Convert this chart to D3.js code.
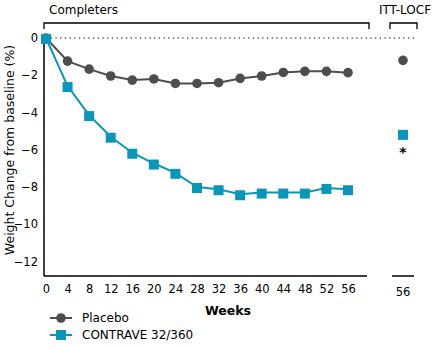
<!DOCTYPE html>
<html>
<head>
<meta charset="utf-8">
<script src="https://cdn.jsdelivr.net/npm/d3@7"></script>
<style>
  body { margin: 0; background: #fff; }
  text { font-family: "DejaVu Sans", Verdana, sans-serif; fill: #000; }
</style>
</head>
<body>
<div id="chart"></div>
<script>
const weeks = [0, 4, 8, 12, 16, 20, 24, 28, 32, 36, 40, 44, 48, 52, 56];
const placebo = [0, -1.24, -1.67, -2.04, -2.26, -2.2, -2.44, -2.44, -2.4, -2.17, -2.04, -1.85, -1.79, -1.79, -1.86];
const contrave = [0, -2.58, -4.14, -5.3, -6.16, -6.74, -7.24, -8.0, -8.12, -8.39, -8.3, -8.3, -8.3, -8.05, -8.12];
const ittPlacebo = -1.2;
const ittContrave = -5.2;
const yTicks = [0, -2, -4, -6, -8, -10, -12];
const seriesNames = ['Placebo', 'CONTRAVE 32/360'];

const w = 436;
const h = 348;
const grey = '#4d4d4d';
const teal = '#0b96b8';

const svg = d3.select('#chart').
append('svg').
attr('width', w).
attr('height', h);

const x = d3.scaleLinear().domain([0, 56]).range([46, 348]);
const xItt = 403;
const y = d3.scaleLinear().domain([0, -12]).range([38, 261.5]);
const yBottom = 276;

// axes
const yAxis = d3.axisLeft(y).tickValues(yTicks).tickSize(0).tickPadding(6);
svg.append('g').
attr('transform', 'translate(44,0)').
call(yAxis).
call(g => g.select('.domain').remove()).
call(g => g.selectAll('text').style('font-size', '11.5px'));

svg.append('line').
attr('x1', 44).attr('x2', 44).
attr('y1', y(0)).attr('y2', yBottom).
attr('stroke', '#000').attr('stroke-width', 1.5);

const xAxis = d3.axisBottom(x).tickValues(weeks).tickSize(0).tickPadding(9);
svg.append('g').
attr('transform', 'translate(0,' + yBottom + ')').
call(xAxis).
call(g => g.select('.domain').remove()).
call(g => g.selectAll('text').style('font-size', '11.5px'));

svg.append('line').
attr('x1', 44).attr('x2', 367).
attr('y1', yBottom).attr('y2', yBottom).
attr('stroke', '#000').attr('stroke-width', 1.5);

// ITT-LOCF axis piece
svg.append('line').
attr('x1', 392).attr('x2', 414).
attr('y1', yBottom).attr('y2', yBottom).
attr('stroke', '#000').attr('stroke-width', 1.5);
svg.append('text').
attr('x', xItt).attr('y', yBottom + 20).
attr('text-anchor', 'middle').
style('font-size', '11.5px').
text('56');

// dotted zero line
svg.append('line').
attr('x1', 46).attr('x2', 417).
attr('y1', y(0)).attr('y2', y(0)).
attr('stroke', '#555').attr('stroke-width', 1.3).
attr('stroke-dasharray', '1.3,3.4');

// brackets
function bracket(x1, x2) {
  svg.append('path').
  attr('d', 'M' + x1 + ',29V23H' + x2 + 'V29').
  attr('fill', 'none').attr('stroke', '#000').attr('stroke-width', 1.3);
}
bracket(44, 369);
bracket(390, 417);

svg.append('text').attr('x', 49).attr('y', 14).style('font-size', '12px').text('Completers');
svg.append('text').attr('x', 405).attr('y', 14).attr('text-anchor', 'middle').style('font-size', '12px').text('ITT-LOCF');

// axis titles
svg.append('text').
attr('transform', 'translate(14,150) rotate(-90)').
attr('text-anchor', 'middle').
style('font-size', '12.5px').
text('Weight Change from baseline (%)');

svg.append('text').
attr('x', 228).attr('y', 315).
attr('text-anchor', 'middle').
style('font-size', '12.5px').style('font-weight', 'bold').
text('Weeks');

// lines
const line = d3.line().x((d, i) => x(weeks[i])).y(d => y(d));

svg.append('path').datum(placebo).
attr('d', line).attr('fill', 'none').
attr('stroke', grey).attr('stroke-width', 2);

svg.append('path').datum(contrave).
attr('d', line).attr('fill', 'none').
attr('stroke', teal).attr('stroke-width', 2);

svg.selectAll('circle.pl').data(placebo).enter().
append('circle').
attr('class', 'pl').
attr('cx', (d, i) => x(weeks[i])).
attr('cy', d => y(d)).
attr('r', 4.8).
attr('fill', grey);

svg.selectAll('rect.cv').data(contrave).enter().
append('rect').
attr('class', 'cv').
attr('x', (d, i) => x(weeks[i]) - 5).
attr('y', d => y(d) - 4).
attr('width', 10).attr('height', 10).
attr('fill', teal);

// ITT points
svg.append('circle').
attr('cx', xItt).attr('cy', y(ittPlacebo)).
attr('r', 4.8).attr('fill', grey);
svg.append('rect').
attr('x', xItt - 5).attr('y', y(ittContrave) - 5).
attr('width', 10).attr('height', 10).
attr('fill', teal);
svg.append('text').
attr('x', xItt).attr('y', y(ittContrave) + 22).
attr('text-anchor', 'middle').
style('font-size', '14px').style('font-weight', 'bold').
text('*');

// legend
const legend = svg.append('g').attr('transform', 'translate(50,318)');
legend.append('line').attr('x1', 0).attr('x2', 22).attr('y1', 0).attr('y2', 0).
attr('stroke', grey).attr('stroke-width', 2);
legend.append('circle').attr('cx', 11).attr('cy', 0).attr('r', 4.8).attr('fill', grey);
legend.append('text').attr('x', 32).attr('y', 4).style('font-size', '12px').text(seriesNames[0]);

legend.append('line').attr('x1', 0).attr('x2', 22).attr('y1', 17).attr('y2', 17).
attr('stroke', teal).attr('stroke-width', 2);
legend.append('rect').attr('x', 6).attr('y', 12).attr('width', 10).attr('height', 10).attr('fill', teal);
legend.append('text').attr('x', 32).attr('y', 21).style('font-size', '12px').text(seriesNames[1]);
</script>
</body>
</html>
